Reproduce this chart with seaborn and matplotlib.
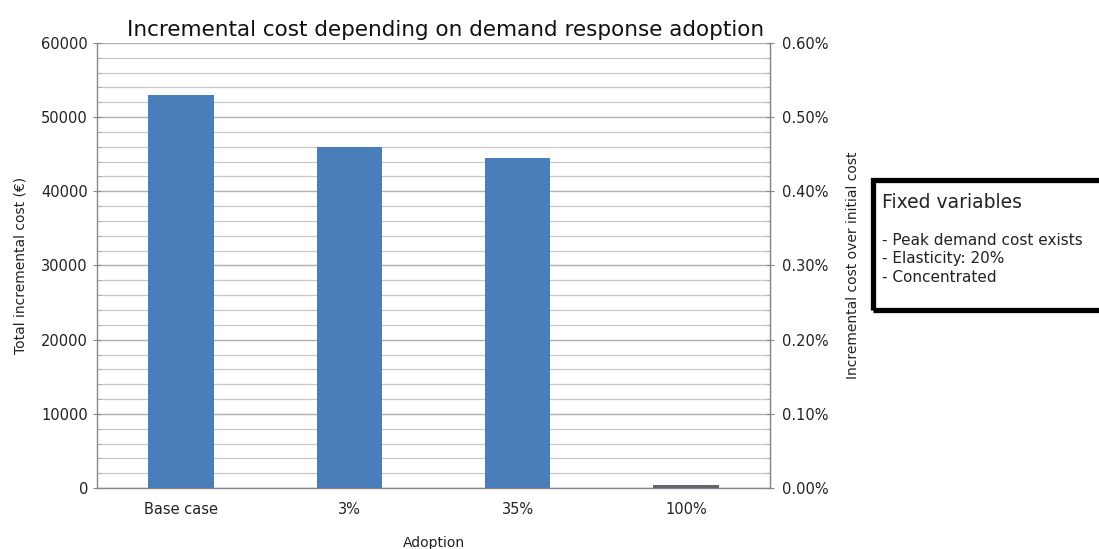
import numpy as np
import pandas as pd
import matplotlib
matplotlib.use("Agg")
import matplotlib.pyplot as plt
import matplotlib.ticker as mticker
from matplotlib.patches import Rectangle
import seaborn as sns

# chart values
categories = ["Base case", "3%", "35%", "100%"]
total_cost = [53000, 46000, 44500, 400]
bar_colors = ["#4a7ebb", "#4a7ebb", "#4a7ebb", "#5f6670"]
right_ticks = [0.0, 0.001, 0.002, 0.003, 0.004, 0.005, 0.006]
box_title = "Fixed variables"
box_lines = ["- Peak demand cost exists", "- Elasticity: 20%", "- Concentrated"]

df = pd.DataFrame({"Adoption": categories, "Cost": total_cost})

sns.set_style("white")
plt.rcParams["font.family"] = ["DejaVu Sans"]

fig = plt.figure(figsize=(10.99, 5.49), dpi=100)
ax = fig.add_axes([0.0883, 0.1111, 0.6123, 0.8106])

sns.barplot(data=df, x="Adoption", y="Cost", hue="Adoption", palette=bar_colors,
            legend=False, width=0.39, saturation=1, linewidth=0, ax=ax, zorder=3)

ax.set_ylim(0, 60000)
ax.set_xlim(-0.5, 3.5)
ax.yaxis.set_major_locator(mticker.MultipleLocator(10000))
ax.yaxis.set_minor_locator(mticker.MultipleLocator(2000))
ax.grid(True, which="major", axis="y", color="#b0b0b0", lw=1.0, zorder=0)
ax.grid(True, which="minor", axis="y", color="#c8c8c8", lw=0.9, zorder=0)
ax.set_axisbelow(True)

# category separators on x axis
ax.set_xticks([-0.5, 0.5, 1.5, 2.5, 3.5], minor=True)
ax.tick_params(axis="x", which="major", length=0, labelsize=10.5, pad=10, labelcolor="#222222")
ax.tick_params(axis="x", which="minor", length=5, direction="inout", color="#888888")
ax.tick_params(axis="y", which="major", length=6, direction="inout", color="#888888",
               labelsize=10.5, labelcolor="#222222")
ax.tick_params(axis="y", which="minor", length=3, direction="in", color="#aaaaaa")

for s in ["left", "bottom", "right"]:
    ax.spines[s].set_color("#888888")
    ax.spines[s].set_linewidth(1.0)
ax.spines["top"].set_visible(False)

ax.set_xlabel("Adoption", fontsize=10, labelpad=14, color="#222222")
ax.set_ylabel("Total incremental cost (€)", fontsize=10, labelpad=10, color="#222222")
ax.set_title("Incremental cost depending on demand response adoption", fontsize=15.5,
             pad=5, color="#111111", x=0.518)

# secondary axis
ax2 = ax.twinx()
ax2.set_ylim(0, 0.006)
ax2.set_yticks(right_ticks)
ax2.yaxis.set_minor_locator(mticker.MultipleLocator(0.0002))
ax2.yaxis.set_major_formatter(mticker.FuncFormatter(lambda v, p: f"{v*100:.2f}%"))
ax2.tick_params(axis="y", which="major", length=6, direction="inout", color="#888888",
                labelsize=10.5, labelcolor="#222222", pad=6)
ax2.tick_params(axis="y", which="minor", length=3, direction="in", color="#aaaaaa")
for s in ["left", "bottom", "top"]:
    ax2.spines[s].set_visible(False)
ax2.spines["right"].set_color("#888888")
ax2.set_ylabel("Incremental cost over initial cost", fontsize=10, labelpad=12, color="#222222")

# fixed variables box
fig.patches.append(Rectangle((0.7948, 0.4362), 0.25, 0.2368, transform=fig.transFigure,
                             fill=False, edgecolor="black", lw=3.8, clip_on=False))
fig.text(0.8026, 0.632, box_title, fontsize=13.5, va="center", ha="left", color="#222222")
for i, line in enumerate(box_lines):
    fig.text(0.8026, 0.5628 - i * 0.0337, line, fontsize=11, va="center", ha="left",
             color="#222222")

plt.savefig("out.png", dpi=100)
